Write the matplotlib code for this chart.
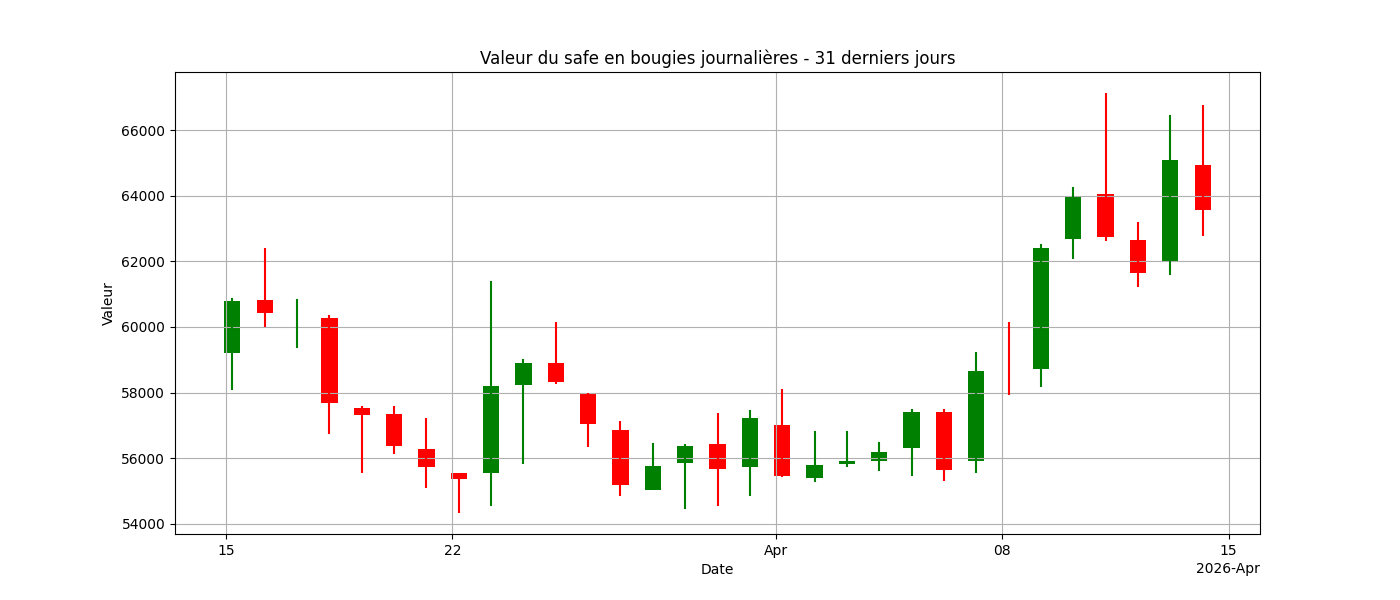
import pandas as pd
import matplotlib
matplotlib.use("Agg")
import matplotlib.pyplot as plt
import matplotlib.dates as mdates

# bougies journalieres
dates = pd.date_range("2026-03-15 04:40", periods=31, freq="D")

opens = [59209, 60818, 60100, 60269, 57521, 57337, 56269, 55536, 55546, 58232,
         58895, 57979, 56849, 55026, 55850, 56421, 55729, 57002, 55393, 55820,
         55911, 56308, 57399, 55911, 59050, 58721, 62690, 64055, 62650, 62009,
         64941]
closes = [60788, 60431, 60100, 57683, 57317, 56369, 55728, 55362, 58192, 58895,
          58314, 57041, 55179, 55750, 56360, 55667, 57215, 55455, 55780, 55911,
          56177, 57399, 55637, 58650, 59040, 62406, 63963, 62751, 61652, 65094,
          63576]
highs = [60880, 62406, 60849, 60360, 57582, 57582, 57215, 55536, 61399, 59017,
         60146, 57979, 57124, 56452, 56421, 57368, 57460, 58101, 56818, 56818,
         56482, 57490, 57490, 59230, 60146, 62528, 64269, 67139, 63200, 66468,
         66773]
lows = [58070, 59994, 59362, 56736, 55546, 56125, 55087, 54324, 54537, 55820,
        58262, 56339, 54843, 55026, 54446, 54537, 54843, 55424, 55271, 55729,
        55606, 55455, 55301, 55545, 57927, 58171, 62079, 62629, 61224, 61591,
        62782]

df = pd.DataFrame({'open': opens, 'close': closes, 'high': highs, 'low': lows}, index=dates)
colors = ['green' if c >= o else 'red' for o, c in zip(df['open'], df['close'])]

fig, ax = plt.subplots(figsize=(14, 6), dpi=100)

ax.vlines(df.index, df['low'], df['high'], color=colors, linewidth=1.5)
ax.bar(df.index, (df['close'] - df['open']), bottom=df['open'], width=0.5, color=colors)

locator = mdates.DayLocator(bymonthday=[1, 8, 15, 22])
ax.xaxis.set_major_locator(locator)
ax.xaxis.set_major_formatter(mdates.ConciseDateFormatter(locator))

ax.set_title("Valeur du safe en bougies journalières - 31 derniers jours")
ax.set_xlabel("Date")
ax.set_ylabel("Valeur")
ax.grid(True)

plt.savefig("out.png")
